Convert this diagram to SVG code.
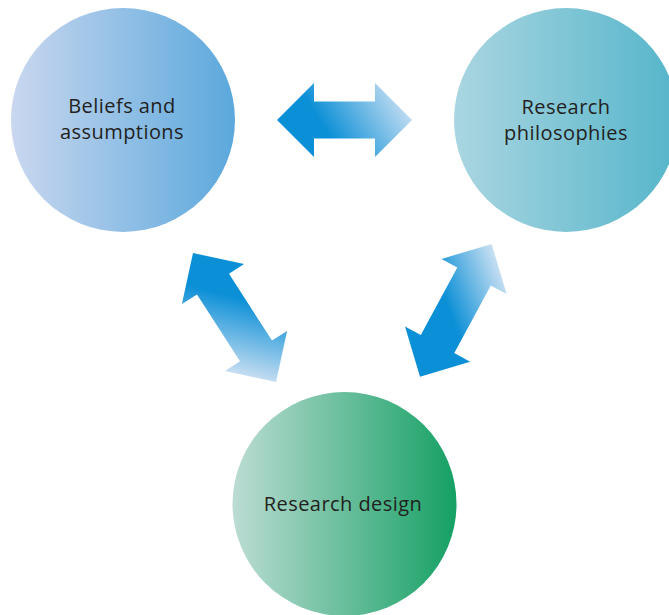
<svg xmlns="http://www.w3.org/2000/svg" width="669" height="615" viewBox="0 0 669 615">
<style>
.lbl{font-family:"Open Sans","Noto Sans","Liberation Sans",sans-serif;font-size:20px;letter-spacing:0.45px;fill:#231f20;text-anchor:middle}
</style>
<defs>
<linearGradient id="gBel" x1="0" y1="0" x2="1" y2="0"><stop offset="0" stop-color="#c9d7ef"/><stop offset="1" stop-color="#5ba8dc"/></linearGradient>
<linearGradient id="gPhi" x1="0" y1="0" x2="1" y2="0"><stop offset="0" stop-color="#aad6e1"/><stop offset="1" stop-color="#55b5ca"/></linearGradient>
<linearGradient id="gDes" x1="0" y1="0" x2="1" y2="0"><stop offset="0" stop-color="#bcdcd3"/><stop offset="1" stop-color="#15a064"/></linearGradient>
<linearGradient id="aH" gradientUnits="userSpaceOnUse" x1="330" y1="138" x2="410" y2="88"><stop offset="0" stop-color="#0b8fd6"/><stop offset="1" stop-color="#dfe9f6"/></linearGradient>
<linearGradient id="aL" gradientUnits="userSpaceOnUse" x1="248" y1="300" x2="228" y2="378"><stop offset="0" stop-color="#0b8fd6"/><stop offset="1" stop-color="#d6e4f4"/></linearGradient>
<linearGradient id="aR" gradientUnits="userSpaceOnUse" x1="445" y1="300" x2="510" y2="275"><stop offset="0" stop-color="#0b8fd6"/><stop offset="1" stop-color="#dce8f5"/></linearGradient>
</defs>
<g id="connectors">
<polygon fill="url(#aH)" points="277,120 314,83 314,101.5 375,101.5 375,83 412,120 375,157 375,138.5 314,138.5 314,157"/>
<polygon fill="url(#aL)" points="193,253 244.1,264.1 229,273.8 272,340.6 287.1,330.9 276,382 224.9,370.9 240,361.2 197,294.4 181.9,304.1"/>
<polygon fill="url(#aR)" points="491.7,244 506.6,294.1 490.8,285.5 454.3,353.1 470.1,361.7 420,376.7 405,326.5 420.8,335.1 457.3,267.5 441.5,258.9"/>
</g>
<g id="beliefs">
<circle cx="123" cy="120" r="112" fill="url(#gBel)"/>
<text class="lbl" x="122" y="113">Beliefs and</text>
<text class="lbl" x="122" y="139">assumptions</text>
</g>
<g id="philosophies">
<circle cx="566" cy="120" r="112" fill="url(#gPhi)"/>
<text class="lbl" x="566" y="114">Research</text>
<text class="lbl" x="566" y="140">philosophies</text>
</g>
<g id="design">
<circle cx="344.5" cy="504" r="112" fill="url(#gDes)"/>
<text class="lbl" x="343" y="511">Research design</text>
</g>
</svg>
